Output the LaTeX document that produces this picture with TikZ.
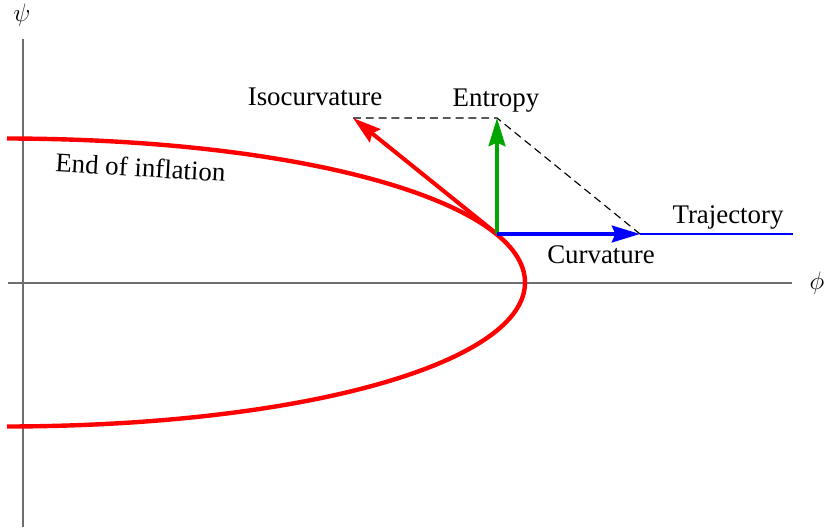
\documentclass[tikz,border=0pt]{standalone}
\usepackage{fontspec}
\setmainfont{Liberation Serif}
\usepackage{tikz}
\usetikzlibrary{arrows.meta, positioning}
\definecolor{cRed}{RGB}{255,0,0}
\definecolor{cGreen}{RGB}{0,165,0}
\definecolor{cBlue}{RGB}{0,0,255}
\definecolor{cAxis}{RGB}{110,110,110}
\tikzset{
	axisline/.style={draw=cAxis, line width=1.1pt},
	boundary/.style={draw=cRed, line width=2.5pt},
	vecarrow/.style={-{Stealth[length=16pt, width=9.5pt, inset=2pt]}, line width=2.3pt},
	guide/.style={draw=black, line width=0.65pt, dash pattern=on 4.5pt off 2.8pt},
	lbl/.style={font=\fontsize{15.3}{18}\selectfont, inner sep=0pt},
}

\begin{document}
\begin{tikzpicture}[x=0.02cm, y=-0.02cm]
	\useasboundingbox (0,0) rectangle (827,527);
	% axes
	\coordinate (psiTop) at (23,39);
	\coordinate (psiBot) at (23,527);
	\coordinate (phiLeft) at (8,283);
	\coordinate (phiRight) at (792,283);
	\draw[axisline] (psiBot) -- (psiTop);
	\draw[axisline] (phiLeft) -- (phiRight);
	\node[lbl] (psi) at (22,15) {$\psi$};
	\node[lbl] (phi) at (817,283) {$\phi$};
	% end of inflation surface
	\coordinate (endTop) at (7,138.5);
	\coordinate (endTip) at (525,282.5);
	\coordinate (endBot) at (7,426.5);
	\draw[boundary] (endTop) .. controls (307,139) and (525,203) .. (endTip)
		.. controls (525,362) and (307,426) .. (endBot);
	\node[lbl, anchor=base, rotate=-3.3] (endlbl) at (140,176.7) {End of inflation};
	% vectors
	\coordinate (base) at (497,234);
	\coordinate (isoTip) at (353,118);
	\coordinate (entTip) at (497,118);
	\coordinate (curvTip) at (640,234);
	\coordinate (trajEnd) at (793,234);
	\draw[guide] (isoTip) -- (entTip) -- (curvTip);
	\draw[cBlue, line width=0.6pt] (curvTip) -- (trajEnd);
	\draw[vecarrow, cRed] (base) -- (isoTip);
	\draw[vecarrow, cGreen] (base) -- (entTip);
	\draw[vecarrow, cBlue] (base) -- (curvTip);
	% labels
	\node[lbl, anchor=base] (iso) at (315,105) {Isocurvature};
	\node[lbl, anchor=base] (ent) at (496,106) {Entropy};
	\node[lbl, anchor=base] (traj) at (728,223) {Trajectory};
	\node[lbl, anchor=base] (curv) at (601,263) {Curvature};
\end{tikzpicture}
\end{document}
